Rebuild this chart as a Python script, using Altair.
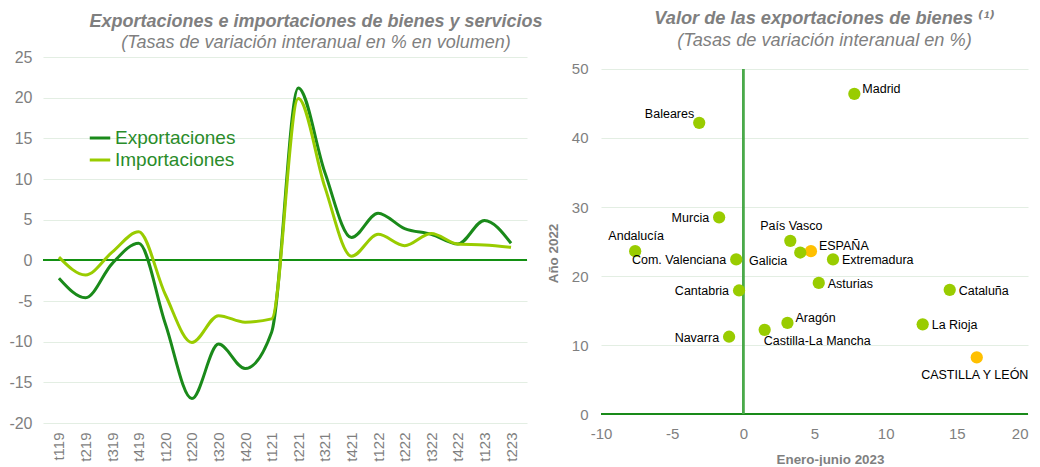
import altair as alt
import pandas as pd

# ---------- Left chart data ----------
quarters = ["t119", "t219", "t319", "t419", "t120", "t220", "t320", "t420", "t121",
            "t221", "t321", "t421", "t122", "t222", "t322", "t422", "t123", "t223"]
exportaciones = [-2.2, -4.6, -0.4, 2.1, -7.8, -17.0, -10.3, -13.3, -8.8,
                 21.2, 10.8, 2.8, 5.8, 3.9, 3.2, 2.0, 4.9, 2.1]
importaciones = [0.4, -1.8, 1.0, 3.5, -4.2, -10.1, -6.8, -7.6, -7.2,
                 19.9, 9.0, 0.5, 3.2, 1.8, 3.3, 2.0, 1.9, 1.6]
series_names = ["Exportaciones", "Importaciones"]
left_y_ticks = [-20, -15, -10, -5, 0, 5, 10, 15, 20, 25]

# ---------- Right chart data ----------
regions = ["Madrid", "Baleares", "Murcia", "País Vasco", "ESPAÑA", "Galicia", "Extremadura",
           "Andalucía", "Com. Valenciana", "Asturias", "Cantabria", "Cataluña", "Aragón",
           "La Rioja", "Castilla-La Mancha", "Navarra", "CASTILLA Y LEÓN"]
enero_junio_2023 = [7.8, -3.1, -1.7, 3.3, 4.75, 4.0, 6.3, -7.6, -0.5, 5.3, -0.3, 14.5, 3.1,
                    12.6, 1.5, -1.0, 16.4]
anio_2022 = [46.4, 42.2, 28.5, 25.1, 23.6, 23.4, 22.4, 23.6, 22.4, 19.0, 17.9, 18.0, 13.2,
             13.0, 12.2, 11.2, 8.2]
grupo = ["CCAA", "CCAA", "CCAA", "CCAA", "Destacado", "CCAA", "CCAA", "CCAA", "CCAA", "CCAA",
         "CCAA", "CCAA", "CCAA", "CCAA", "CCAA", "CCAA", "Destacado"]
label_side = ["upright", "upleft", "left", "above", "upright", "downleft", "right", "above",
              "left", "right", "left", "right", "upright", "right", "belowright", "left", "below"]
right_x_ticks = [-10, -5, 0, 5, 10, 15, 20]
right_y_ticks = [0, 10, 20, 30, 40, 50]

# ---------- Styles ----------
FONT = "Liberation Sans"
TITLE_FONT = "Liberation Sans, DejaVu Sans"
GRAY = "#7f7f7f"
DARK_GREEN = "#1a8a1a"
LIGHT_GREEN = "#99cc00"
ORANGE = "#ffc000"
GRID = "#e3eee3"
HYPHEN_LABEL = "'' + datum.value"
TFS = 18.2

label_styles = {
    "right": dict(align="left", dx=9, dy=1),
    "upright": dict(align="left", dx=8, dy=-5),
    "left": dict(align="right", dx=-10, dy=1),
    "upleft": dict(align="right", dx=-5, dy=-9),
    "downleft": dict(align="right", dx=-13, dy=8),
    "above": dict(align="center", dx=1, dy=-15),
    "below": dict(align="center", dx=-2, dy=18),
    "belowright": dict(align="left", dx=-1, dy=11),
}

# ---------- Left chart ----------
left_df = pd.DataFrame({
    "trimestre": quarters * 2,
    "valor": exportaciones + importaciones,
    "serie": [series_names[0]] * len(quarters) + [series_names[1]] * len(quarters),
})

lines = alt.Chart(left_df).mark_line(interpolate="monotone", strokeWidth=3).encode(
    x=alt.X("trimestre:O", sort=quarters,
            scale=alt.Scale(type="point", padding=0.6),
            axis=alt.Axis(title=None, labelAngle=-90, labelFontSize=15, labelColor=GRAY,
                          labelFont=FONT, ticks=False, domain=False, labelPadding=9, grid=False)),
    y=alt.Y("valor:Q", scale=alt.Scale(domain=[-20, 25], nice=False, zero=False),
            axis=alt.Axis(title=None, values=left_y_ticks, labelFontSize=16, labelColor=GRAY,
                          labelFont=FONT, ticks=False, domain=False, labelPadding=11,
                          labelExpr=HYPHEN_LABEL,
                          grid=True, gridColor=GRID, gridWidth=1.2)),
    color=alt.Color("serie:N",
                    scale=alt.Scale(domain=series_names, range=[DARK_GREEN, LIGHT_GREEN]),
                    legend=alt.Legend(title=None, orient="none", legendX=45, legendY=69,
                                      symbolType="stroke", symbolSize=420, symbolStrokeWidth=3,
                                      labelFontSize=19, labelFont=FONT, labelColor="#2a8c2a",
                                      rowPadding=0, labelOffset=3, padding=0)),
)

zero_rule = alt.Chart(left_df).mark_rule(color="#139013", strokeWidth=1.5).encode(
    y=alt.datum(0)
)

left = alt.layer(zero_rule, lines).properties(
    width=484, height=366,
    title=alt.TitleParams(
        text="Exportaciones e importaciones de bienes y servicios",
        subtitle="(Tasas de variación interanual en % en volumen)",
        font=TITLE_FONT, fontSize=18, fontStyle="italic", fontWeight="bold", color=GRAY,
        subtitleFont=TITLE_FONT, subtitleFontSize=18, subtitleFontStyle="italic",
        subtitleColor=GRAY, subtitlePadding=3, anchor="middle", offset=-3, dx=31,
    ),
)

# ---------- Right chart ----------
right_df = pd.DataFrame({
    "region": regions,
    "x": enero_junio_2023,
    "y": anio_2022,
    "grupo": grupo,
    "lado": label_side,
})

# y domain extended so that the plot frame matches the left panel height
xenc = alt.X("x:Q", scale=alt.Scale(domain=[-10, 20], nice=False, zero=False),
             axis=alt.Axis(title="Enero-junio 2023", values=right_x_ticks, labelFontSize=15,
                           labelColor=GRAY, labelFont=FONT, ticks=False, domain=False,
                           grid=False, labelFlush=False, labelExpr=HYPHEN_LABEL,
                           labelAlign={"condition": {"test": "datum.value == 20",
                                                     "value": "right"},
                                       "value": "center"},
                           labelPadding=3, titleFont=FONT, titleFontSize=13.4,
                           titleFontWeight="bold", titleColor=GRAY, titlePadding=11,
                           titleX=229))
yenc = alt.Y("y:Q", scale=alt.Scale(domain=[-1.304, 51.739], nice=False, zero=False),
             axis=alt.Axis(title="Año 2022", values=right_y_ticks, labelFontSize=15,
                           labelColor=GRAY, labelFont=FONT, ticks=False, domain=False,
                           grid=True, gridColor=GRID, gridWidth=1.2, labelPadding=13,
                           labelFlush=False,
                           titleFont=FONT, titleFontSize=13.4, titleFontWeight="bold",
                           titleColor=GRAY, titlePadding=11, titleY=196))

vline = alt.Chart(right_df).mark_rule(color="#4aaa4a", strokeWidth=1.5).encode(
    x=alt.datum(0), y=alt.datum(0), y2=alt.datum(50)
)
hline = alt.Chart(right_df).mark_rule(color=DARK_GREEN, strokeWidth=1.5).encode(
    y=alt.datum(0)
)

points = alt.Chart(right_df).mark_circle(size=150, opacity=1).encode(
    x=xenc, y=yenc,
    color=alt.Color("grupo:N", scale=alt.Scale(domain=["CCAA", "Destacado"],
                                              range=[LIGHT_GREEN, ORANGE]), legend=None),
)

text_layers = []
for side, st in label_styles.items():
    text_layers.append(
        alt.Chart(right_df).transform_filter(alt.datum.lado == side).mark_text(
            font=FONT, fontSize=12.5, color="#000000", baseline="middle", **st
        ).encode(x=xenc, y=yenc, text="region:N")
    )

right = alt.layer(hline, vline, points, *text_layers).properties(
    width=427, height=366,
    title=alt.TitleParams(
        text="Valor de las exportaciones de bienes ⁽¹⁾",
        subtitle="(Tasas de variación interanual en %)",
        font=TITLE_FONT, fontSize=TFS, fontStyle="italic", fontWeight="bold", color=GRAY,
        subtitleFont=TITLE_FONT, subtitleFontSize=TFS, subtitleFontStyle="italic",
        subtitleColor=GRAY, subtitlePadding=4, anchor="middle", offset=7, dx=10,
    ),
)

chart = alt.hconcat(left, right, spacing=74, bounds="flush").resolve_scale(
    color="independent"
).properties(
    padding={"left": 0, "top": 0, "right": 0, "bottom": 0}
).configure_view(stroke=None)

chart.save("out.html", embed_options={"renderer": "svg", "actions": False})
